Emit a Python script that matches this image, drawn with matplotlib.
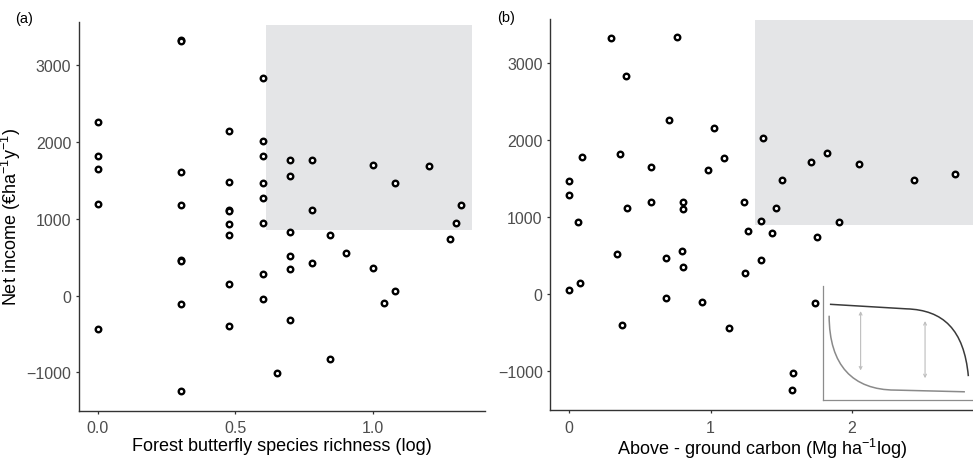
import matplotlib
matplotlib.use('Agg')
import matplotlib.pyplot as plt
from matplotlib.patches import Rectangle, PathPatch
from matplotlib.path import Path

plt.rcParams.update({
    'font.family': ['Liberation Sans', 'DejaVu Sans'],
    'mathtext.fontset': 'custom',
    'mathtext.rm': 'Liberation Sans',
    'mathtext.it': 'Liberation Sans:italic',
    'mathtext.default': 'regular',
})

AXIS = '#333333'
TICKLAB = '#4d4d4d'
SHADE = '#e4e5e7'

# (a) log butterfly richness vs net income
rich_x = [0.0, 0.0, 0.0, 0.0, 0.0,
          0.301, 0.301, 0.301, 0.301, 0.301, 0.301, 0.301, 0.301,
          0.477, 0.477, 0.477, 0.477, 0.477, 0.477, 0.477, 0.477,
          0.602, 0.602, 0.602, 0.602, 0.602, 0.602, 0.602, 0.602,
          0.653,
          0.699, 0.699, 0.699, 0.699, 0.699, 0.699,
          0.778, 0.778, 0.778,
          0.845, 0.845,
          0.903,
          1.0, 1.0,
          1.041,
          1.079, 1.079,
          1.204, 1.279, 1.301, 1.322]
rich_y = [2257, 1826, 1649, 1192, -430,
          3335, 3318, 1605, 1187, 470, 447, -108, -1239,
          2152, 1483, 1115, 1100, 931, 796, 148, -391,
          2830, 2018, 1818, 1474, 1278, 948, 279, -47,
          -1012,
          1766, 1557, 831, 522, 352, -313,
          1774, 1114, 422,
          788, -830,
          557,
          1709, 361,
          -99,
          1470, 57,
          1688, 744, 948, 1187]

# (b) log above-ground carbon vs net income
carb_x = [0.297, 0.763, 0.400, 0.709, 1.025, 1.373, 0.094, 0.360, 0.0, 0.0,
          0.582, 0.980, 1.093, 1.710, 1.821, 2.047, 1.505, 2.436, 2.728,
          0.408, 0.577, 0.808, 0.808, 1.237, 1.461, 0.061, 1.355, 1.906,
          1.267, 1.432, 1.753, 0.341, 0.683, 0.796, 0.808, 1.355, 1.246,
          0.0, 0.080, 0.688, 0.938, 1.736, 0.372, 1.129, 1.585, 1.576]
carb_y = [3321, 3338, 2836, 2260, 2156, 2022, 1784, 1818, 1473, 1282,
          1649, 1606, 1766, 1710, 1831, 1684, 1486, 1477, 1555,
          1113, 1195, 1191, 1109, 1191, 1117, 935, 953, 935,
          827, 797, 745, 520, 468, 559, 351, 451, 278,
          52, 148, -47, -104, -108, -398, -437, -1021, -1242]

# shaded "win-win" regions: x0, x1, y0, y1
shade_a = (0.612, 1.361, 861, 3531)
shade_b = (1.314, 2.855, 896, 3558)

# schematic trade-off curves for the inset (cubic Bezier control points)
upper_curve = [(0.045, 0.84), (0.557, 0.80), (0.80, 0.79), (0.94, 0.62), (0.969, 0.21)]
lower_curve = [(0.04, 0.74), (0.04, 0.30), (0.20, 0.09), (0.479, 0.088), (0.946, 0.073)]
gap_arrows = [(0.25, 0.78, 0.26), (0.68, 0.693, 0.192)]

fig = plt.figure(figsize=(9.73, 4.60), dpi=100)
ax_a = fig.add_axes([0.0812, 0.105, 0.4173, 0.8456])
ax_b = fig.add_axes([0.5656, 0.1065, 0.4344, 0.85])


def style(ax):
    for s in ('top', 'right'):
        ax.spines[s].set_visible(False)
    for s in ('left', 'bottom'):
        ax.spines[s].set_color(AXIS)
        ax.spines[s].set_linewidth(1.0)
    ax.tick_params(direction='out', length=2.5, width=0.9, color=AXIS,
                   labelcolor=TICKLAB, labelsize=11.5, pad=3)
    ax.tick_params(axis='x', pad=4.5)
    ax.set_ylim(-1500, 3570)
    ax.set_yticks([-1000, 0, 1000, 2000, 3000])
    ax.set_yticklabels(['\u22121000', '0', '1000', '2000', '3000'])


def shade(ax, r):
    ax.add_patch(Rectangle((r[0], r[2]), r[1] - r[0], r[3] - r[2],
                           facecolor=SHADE, edgecolor='none', zorder=0))


style(ax_a)
shade(ax_a, shade_a)
ax_a.plot(rich_x, rich_y, 'o', ms=4, mfc='white', mec='black', mew=1.7, zorder=3)
ax_a.set_xlim(-0.068, 1.408)
ax_a.set_xticks([0.0, 0.5, 1.0])
ax_a.set_xticklabels(['0.0', '0.5', '1.0'])
ax_a.set_xlabel('Forest butterfly species richness (log)', fontsize=13, labelpad=1)
ax_a.set_ylabel('Net income (\u20acha$^{-1}$y$^{-1}$)', fontsize=13)
ax_a.yaxis.set_label_coords(-0.137, 0.5)

style(ax_b)
shade(ax_b, shade_b)
ax_b.plot(carb_x, carb_y, 'o', ms=4, mfc='white', mec='black', mew=1.7, zorder=3)
ax_b.set_xlim(-0.132, 2.855)
ax_b.set_xticks([0, 1, 2])
ax_b.set_xlabel('Above - ground carbon (Mg ha$^{-1}$log)', fontsize=13, labelpad=1)

fig.text(0.0155, 0.958, '(a)', fontsize=10.5, va='center', ha='left')
fig.text(0.5105, 0.960, '(b)', fontsize=10.5, va='center', ha='left')

# inset schematic
ins = fig.add_axes([0.846, 0.128, 0.154, 0.248])
ins.patch.set_alpha(0)
ins.set_xlim(0, 1)
ins.set_ylim(0, 1)
ins.set_xticks([])
ins.set_yticks([])
for s in ('top', 'right'):
    ins.spines[s].set_visible(False)
for s in ('left', 'bottom'):
    ins.spines[s].set_color('#8c8c8c')
    ins.spines[s].set_linewidth(0.9)

up = Path(upper_curve, [Path.MOVETO, Path.LINETO, Path.CURVE4, Path.CURVE4, Path.CURVE4])
ins.add_patch(PathPatch(up, facecolor='none', edgecolor='#3a3a3a', lw=1.1))
lo = Path(lower_curve, [Path.MOVETO, Path.CURVE4, Path.CURVE4, Path.CURVE4, Path.LINETO])
ins.add_patch(PathPatch(lo, facecolor='none', edgecolor='#8a8a8a', lw=1.1))
for x, y_top, y_bot in gap_arrows:
    ins.annotate('', xy=(x, y_top), xytext=(x, y_bot),
                 arrowprops=dict(arrowstyle='<->', color='#bdbdbd', lw=0.8,
                                 mutation_scale=5, shrinkA=0, shrinkB=0))

fig.savefig('out.png', dpi=100)
